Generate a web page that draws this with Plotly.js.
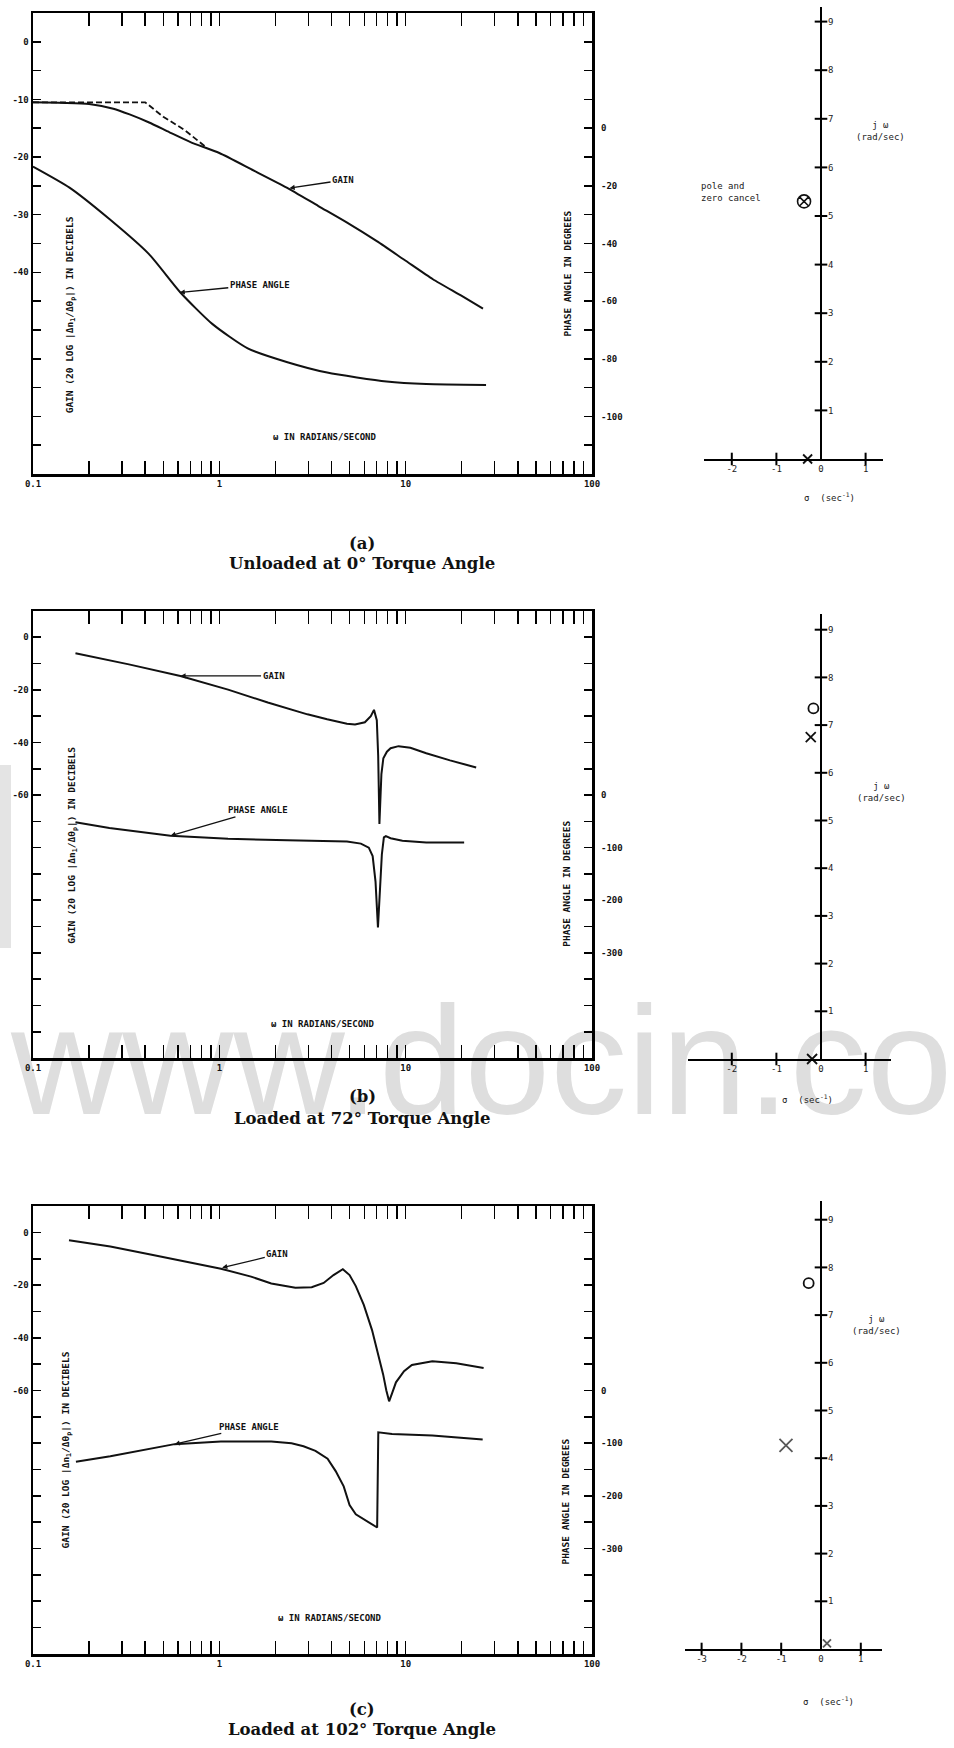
<!DOCTYPE html>
<html><head><meta charset="utf-8">
<script src="https://cdn.plot.ly/plotly-3.0.1.min.js"></script>
<style>html,body{margin:0;padding:0;background:#fff}#chart{width:954px;height:1748px}</style>
</head><body><div id="chart"></div>
<script>
const W = 954, H = 1748;

// ---------- Panel (a) Unloaded at 0 deg ----------
const omegaGainA = [0.1, 0.15, 0.2, 0.27, 0.33, 0.42, 0.54, 0.7, 1.0, 1.5, 2.3, 3.4, 4.8, 7, 10, 14, 20, 26];
const gainA = [-10.5, -10.6, -10.8, -11.6, -12.6, -14.0, -15.7, -17.4, -19.3, -22.2, -25.3, -28.5, -31.3, -34.6, -38.0, -41.2, -44.1, -46.3];
const omegaAsymA = [0.1, 0.4, 0.5, 0.65, 0.85];
const asymA = [-10.5, -10.5, -13.0, -15.3, -18.3];
const omegaPhaseA = [0.1, 0.157, 0.257, 0.418, 0.618, 0.916, 1.42, 2.32, 3.79, 7.9, 12.9, 27];
const phaseA = [-13.3, -20.6, -31.5, -43.6, -57, -67.9, -76.4, -81.2, -84.8, -87.9, -88.8, -89.1];

// ---------- Panel (b) Loaded at 72 deg ----------
const omegaGainB = [0.169, 0.327, 0.618, 1.114, 1.82, 2.97, 3.79, 4.84, 5.35, 6.04, 6.5, 6.76, 7.0, 7.12, 7.23, 7.41, 7.59, 7.93, 8.3, 9.16, 10.6, 12.9, 17.3, 23.9];
const gainB = [-6.1, -10.3, -14.7, -19.9, -24.8, -29.3, -31.2, -32.9, -33.2, -32.3, -30.0, -27.6, -31.5, -45, -71, -52, -46, -43.5, -42.2, -41.4, -42.0, -44.1, -46.8, -49.5];
const omegaPhaseB = [0.169, 0.257, 0.547, 1.114, 2.32, 4.84, 5.75, 6.34, 6.65, 6.89, 7.1, 7.23, 7.45, 7.64, 7.83, 8.3, 9.6, 12.9, 20.6];
const phaseB = [-51.6, -62.6, -77.4, -83.2, -85.8, -88.4, -92.3, -100, -116, -164.5, -251.6, -203, -113, -80.6, -78, -82, -87, -90.3, -90.3];

// ---------- Panel (c) Loaded at 102 deg ----------
const omegaGainC = [0.156, 0.26, 0.427, 0.703, 1.02, 1.48, 1.9, 2.56, 3.13, 3.63, 4.1, 4.6, 5.0, 5.4, 5.96, 6.6, 7.1, 7.57, 7.87, 8.15, 8.45, 8.87, 9.8, 10.8, 13.9, 18.7, 26.2];
const gainC = [-3.0, -5.4, -8.4, -11.4, -13.8, -16.8, -19.4, -21.0, -20.8, -19.2, -16.2, -14.0, -16.2, -20.4, -27.5, -37.1, -45.5, -53.9, -59.9, -64.1, -61.1, -56.9, -52.7, -50.3, -48.9, -49.7, -51.5];
const omegaPhaseC = [0.17, 0.26, 0.575, 1.02, 1.9, 2.44, 2.83, 3.28, 3.81, 4.21, 4.65, 5.0, 5.4, 6.1, 6.92, 7.03, 7.13, 8.45, 13.9, 25.9];
const phaseC = [-135.3, -124.7, -101.8, -97, -97, -100, -105.9, -114.7, -129.4, -153, -182, -217.6, -235, -247, -258, -260, -79.4, -82.4, -85.3, -92.9];

// ---------- Bode axis ticks ----------
const decades = [0.1, 1, 10, 100];
const decadeLabels = ['0.1', '1', '10', '100'];
const minorVals = [0.2,0.3,0.4,0.5,0.6,0.7,0.8,0.9,2,3,4,5,6,7,8,9,20,30,40,50,60,70,80,90];
const gainLabeledA = [0, -10, -20, -30, -40];
const gainMinorA = [-5,-15,-25,-35,-45,-50,-55,-60,-65,-70];
const phaseLabeledA = [0, -20, -40, -60, -80, -100];
const phaseMinorA = [30, 20, 10, -10, -30, -50, -70, -90, -110];
const gainLabeledBC = [0, -20, -40, -60];
const gainMinorBC = [-10,-30,-50,-70,-80,-90,-100,-110,-120,-130,-140,-150];
const phaseLabeledBC = [0, -100, -200, -300];
const phaseMinorBC = [300,250,200,150,100,50,-50,-150,-250,-350,-400,-450];

// ---------- s-plane (pole / zero) data ----------
const sigmaTicksA = [-2, -1, 0, 1];
const sigmaTicksB = [-2, -1, 0, 1];
const sigmaTicksC = [-3, -2, -1, 0, 1];
const omegaTicks = [1, 2, 3, 4, 5, 6, 7, 8, 9];
const polesA = {sigma: [-0.3], omega: [0]};
const cancelA = {sigma: [-0.38], omega: [5.3]};
const polesB = {sigma: [-0.23, -0.2], omega: [6.75, 0]};
const zerosB = {sigma: [-0.17], omega: [7.35]};
const polesC = {sigma: [-0.88, 0.15], omega: [4.27, 0.12]};
const zerosC = {sigma: [-0.31], omega: [7.67]};

const captionsTop = ['(a)', '(b)', '(c)'];
const captionsBottom = ['Unloaded at 0° Torque Angle', 'Loaded at 72° Torque Angle', 'Loaded at 102° Torque Angle'];

// ---------- styles ----------
const tickFont = {family: 'DejaVu Sans Mono', size: 9, color: '#111', weight: 'bold'};
const annoFont = {family: 'DejaVu Sans Mono', size: 9, color: '#111', weight: 'bold'};
const titleFont = {family: 'DejaVu Sans Mono', size: 9.5, color: '#111', weight: 'bold'};
const pzFont = {family: 'DejaVu Sans Mono', size: 9, color: '#222'};
const capFont = {family: 'DejaVu Serif', size: 16.5, color: '#111', weight: 'bold'};
const sfx = i => (i === 1 ? '' : String(i));
const lg = v => Math.log10(v);

const layout = {
  width: W, height: H, margin: {l: 0, r: 0, t: 0, b: 0, pad: 0},
  paper_bgcolor: '#fff', plot_bgcolor: 'rgba(0,0,0,0)',
  showlegend: false, annotations: [], shapes: []
};
const traces = [];

function bode(ix, iy, iy2, iy3, xPx, yPx, gRange, pRange, gLab, gMin, pLab, pMin) {
  layout['xaxis' + sfx(ix)] = {
    type: 'log', range: [-1, 2], domain: [xPx[0] / W, xPx[1] / W], anchor: 'y' + sfx(iy),
    showline: true, linecolor: '#000', linewidth: 2.5, mirror: 'allticks',
    ticks: 'inside', ticklen: 13, tickwidth: 1.6, tickcolor: '#000',
    tickmode: 'array', tickvals: decades, ticktext: decadeLabels, tickfont: tickFont,
    minor: {ticks: 'inside', ticklen: 7, tickwidth: 1.4, tickcolor: '#000', tickmode: 'array', tickvals: minorVals, showgrid: false},
    showgrid: false, zeroline: false
  };
  layout['yaxis' + sfx(iy)] = {
    range: gRange, domain: [1 - yPx[1] / H, 1 - yPx[0] / H], anchor: 'x' + sfx(ix),
    showline: true, linecolor: '#000', linewidth: 2.5, mirror: true,
    ticks: 'inside', ticklen: 8, tickwidth: 1.6, tickcolor: '#000',
    tickmode: 'array', tickvals: gLab, ticktext: gLab.map(String), tickfont: tickFont,
    minor: {ticks: 'inside', ticklen: 8, tickwidth: 1.6, tickcolor: '#000', tickmode: 'array', tickvals: gMin, showgrid: false},
    showgrid: false, zeroline: false
  };
  layout['yaxis' + sfx(iy2)] = {
    range: pRange, overlaying: 'y' + sfx(iy), side: 'right', anchor: 'x' + sfx(ix),
    ticks: 'inside', ticklen: 8, tickwidth: 1.6, tickcolor: '#000',
    tickmode: 'array', tickvals: pLab, ticktext: pLab.map(String), tickfont: tickFont, ticklabelstandoff: 8,
    minor: {ticks: 'inside', ticklen: 8, tickwidth: 1.6, tickcolor: '#000', tickmode: 'array', tickvals: pMin, showgrid: false},
    showline: false, showgrid: false, zeroline: false
  };
  // labelled phase ticks also cross the right frame outward
  layout['yaxis' + sfx(iy3)] = {
    range: pRange, overlaying: 'y' + sfx(iy), side: 'right', anchor: 'x' + sfx(ix),
    ticks: 'outside', ticklen: 7, tickwidth: 1.6, tickcolor: '#000',
    tickmode: 'array', tickvals: pLab, showticklabels: false,
    showline: false, showgrid: false, zeroline: false
  };
}

function splane(ix, iy, xRange, x0Px, unitX, y0Px, unitY, yTop, sTicks) {
  layout['xaxis' + sfx(ix)] = {
    range: xRange, domain: [(x0Px + xRange[0] * unitX) / W, (x0Px + xRange[1] * unitX) / W],
    anchor: 'y' + sfx(iy), showline: true, linecolor: '#000', linewidth: 2.2,
    ticks: '', tickmode: 'array', tickvals: sTicks, ticktext: sTicks.map(String), tickfont: pzFont,
    showgrid: false, zeroline: false
  };
  layout['yaxis' + sfx(iy)] = {
    range: [0, yTop], domain: [1 - y0Px / H, 1 - (y0Px - yTop * unitY) / H],
    anchor: 'free', position: x0Px / W, side: 'right', showline: true, linecolor: '#000', linewidth: 2.2,
    ticks: '', tickmode: 'array', tickvals: omegaTicks, ticktext: omegaTicks.map(String), tickfont: pzFont,
    ticklabelstandoff: 4, showgrid: false, zeroline: false
  };
  const xa = 'x' + sfx(ix), ya = 'y' + sfx(iy);
  traces.push({x: omegaTicks.map(() => 0), y: omegaTicks, xaxis: xa, yaxis: ya, mode: 'markers', cliponaxis: false,
    marker: {symbol: 'line-ew', size: 9, color: '#000', line: {width: 2, color: '#000'}}, hoverinfo: 'skip'});
  const st = sTicks.filter(v => v !== 0);
  traces.push({x: st, y: st.map(() => 0), xaxis: xa, yaxis: ya, mode: 'markers', cliponaxis: false,
    marker: {symbol: 'line-ns', size: 9, color: '#000', line: {width: 2, color: '#000'}}, hoverinfo: 'skip'});
}

const line = {color: '#111', width: 2};
const sline = {color: '#111', width: 2, shape: 'spline', smoothing: 0.6};

// ----- Bode plots -----
bode(1, 1, 2, 10, [33, 592], [13, 474], [-75, 5], [-120, 40], gainLabeledA, gainMinorA, phaseLabeledA, phaseMinorA);
bode(3, 4, 5, 11, [33, 592], [611, 1058], [-160, 10], [-500, 350], gainLabeledBC, gainMinorBC, phaseLabeledBC, phaseMinorBC);
bode(5, 7, 8, 12, [33, 592], [1206, 1654], [-160, 10], [-500, 350], gainLabeledBC, gainMinorBC, phaseLabeledBC, phaseMinorBC);

traces.push({x: omegaGainA, y: gainA, xaxis: 'x', yaxis: 'y', mode: 'lines', line: sline});
traces.push({x: omegaAsymA, y: asymA, xaxis: 'x', yaxis: 'y', mode: 'lines', line: {color: '#111', width: 1.8, dash: '6px,3px'}});
traces.push({x: omegaPhaseA, y: phaseA, xaxis: 'x', yaxis: 'y2', mode: 'lines', line: sline});
traces.push({x: omegaGainB, y: gainB, xaxis: 'x3', yaxis: 'y4', mode: 'lines', line: line});
traces.push({x: omegaPhaseB, y: phaseB, xaxis: 'x3', yaxis: 'y5', mode: 'lines', line: line});
traces.push({x: omegaGainC, y: gainC, xaxis: 'x5', yaxis: 'y7', mode: 'lines', line: line});
traces.push({x: omegaPhaseC, y: phaseC, xaxis: 'x5', yaxis: 'y8', mode: 'lines', line: line});

function arrowLabel(xr, yr, xv, yv, axLog, ay, text) {
  layout.annotations.push({xref: xr, yref: yr, x: lg(xv), y: yv, axref: xr, ayref: yr, ax: axLog, ay: ay,
    text: text, font: annoFont, showarrow: true, arrowhead: 2, arrowsize: 0.8, arrowwidth: 1.3, arrowcolor: '#111', standoff: 0});
}
function plainText(xr, yr, x, y, text, extra) {
  layout.annotations.push(Object.assign({xref: xr, yref: yr, x: x, y: y, text: text, font: annoFont, showarrow: false}, extra || {}));
}
const gainTitle = 'GAIN (20 LOG |Δn<sub>1</sub>/Δθ<sub>p</sub>|) IN DECIBELS';
const phaseTitle = 'PHASE ANGLE IN DEGREES';
const wTitle = 'ω IN RADIANS/SECOND';
const rot = {textangle: -90, font: titleFont};

// (a)
arrowLabel('x', 'y', 2.38, -25.4, 0.664, -24, 'GAIN');
arrowLabel('x', 'y2', 0.612, -57, 0.217, -54.3, 'PHASE ANGLE');
plainText('x', 'y domain', 0.568, 0.066, wTitle);
plainText('x', 'y domain', -0.794, 0.345, gainTitle, rot);
plainText('x', 'y domain', 1.866, 0.294, phaseTitle, rot);
// (b)
arrowLabel('x3', 'y4', 0.618, -14.7, 0.291, -14.7, 'GAIN');
arrowLabel('x3', 'y5', 0.547, -77.4, 0.206, -29, 'PHASE ANGLE');
plainText('x3', 'y4 domain', 0.557, 0.06, wTitle);
plainText('x3', 'y4 domain', -0.79, 0.70, gainTitle, rot);
plainText('x3', 'y4 domain', 1.866, 0.39, phaseTitle, rot);
// (c)
arrowLabel('x5', 'y7', 1.035, -13.4, 0.311, -8.4, 'GAIN');
arrowLabel('x5', 'y8', 0.575, -102, 0.16, -69, 'PHASE ANGLE');
plainText('x5', 'y7 domain', 0.594, 0.065, wTitle);
plainText('x5', 'y7 domain', -0.82, 0.68, gainTitle, rot);
plainText('x5', 'y7 domain', 1.86, 0.34, phaseTitle, rot);

// ----- s-plane plots -----
splane(2, 3, [-2.62, 1.38], 821, 44.6, 459, 48.6, 9.3, sigmaTicksA);
splane(4, 6, [-2.99, 1.57], 821, 44.6, 1059, 47.7, 9.32, sigmaTicksB);
splane(6, 9, [-3.42, 1.54], 821, 39.8, 1649, 47.7, 9.4, sigmaTicksC);

const xMark = sz => ({symbol: 'x-thin-open', size: sz, color: '#111', line: {width: 1.8, color: '#111'}});
traces.push({x: polesA.sigma, y: polesA.omega, xaxis: 'x2', yaxis: 'y3', mode: 'markers', cliponaxis: false, marker: xMark(9)});
traces.push({x: cancelA.sigma, y: cancelA.omega, xaxis: 'x2', yaxis: 'y3', mode: 'markers', cliponaxis: false,
  marker: {symbol: 'circle-x-open', size: 13, color: '#111', line: {width: 1.6, color: '#111'}}});
traces.push({x: polesB.sigma, y: polesB.omega, xaxis: 'x4', yaxis: 'y6', mode: 'markers', cliponaxis: false, marker: xMark(10)});
traces.push({x: zerosB.sigma, y: zerosB.omega, xaxis: 'x4', yaxis: 'y6', mode: 'markers', cliponaxis: false,
  marker: {symbol: 'circle-open', size: 10, color: '#111', line: {width: 1.8, color: '#111'}}});
traces.push({x: polesC.sigma, y: polesC.omega, xaxis: 'x6', yaxis: 'y9', mode: 'markers', cliponaxis: false,
  marker: {symbol: 'x-thin-open', size: [13, 8], color: '#111', line: {width: 1.8, color: '#111'}}});
traces.push({x: zerosC.sigma, y: zerosC.omega, xaxis: 'x6', yaxis: 'y9', mode: 'markers', cliponaxis: false,
  marker: {symbol: 'circle-open', size: 10, color: '#111', line: {width: 1.8, color: '#111'}}});

function pzText(xr, yr, x, y, text, extra) {
  layout.annotations.push(Object.assign({xref: xr, yref: yr, x: x, y: y, text: text, font: pzFont, showarrow: false}, extra || {}));
}
pzText('x2', 'y3', -2.6, 5.5, 'pole and<br>zero cancel', {xanchor: 'left', align: 'left', xshift: -6});
pzText('x2', 'y3', 1.33, 6.75, 'j ω<br>(rad/sec)');
pzText('x2', 'y3', 0.2, 0, 'σ  (sec<sup>-1</sup>)', {yshift: -38});
pzText('x4', 'y6', 1.36, 5.6, 'j ω<br>(rad/sec)');
pzText('x4', 'y6', -0.3, 0, 'σ  (sec<sup>-1</sup>)', {yshift: -40});
pzText('x6', 'y9', 1.4, 6.8, 'j ω<br>(rad/sec)');
pzText('x6', 'y9', 0.2, 0, 'σ  (sec<sup>-1</sup>)', {yshift: -52});

// ----- captions -----
const capY = [[532, 552], [1096, 1118], [1721, 1741]];
captionsTop.forEach((t, i) => {
  layout.annotations.push({xref: 'paper', yref: 'paper', x: 362 / W, y: 1 - capY[i][0] / H, text: t, font: capFont, showarrow: false});
  layout.annotations.push({xref: 'paper', yref: 'paper', x: 362 / W, y: 1 - capY[i][1] / H, text: captionsBottom[i], font: capFont, showarrow: false});
});

// ----- background watermark of the scanned page -----
layout.shapes.push({type: 'rect', xref: 'paper', yref: 'paper', x0: 0, x1: 1, y0: 1 - 1096 / H, y1: 1 - 996 / H,
  line: {width: 0}, fillcolor: 'rgba(0,0,0,0)', layer: 'below',
  label: {text: 'www.docin.co', textposition: 'middle left', padding: 8,
    font: {family: 'Liberation Sans', size: 154, color: '#dedede'}}});
layout.shapes.push({type: 'rect', xref: 'paper', yref: 'paper', x0: 0, x1: 11 / W, y0: 1 - 948 / H, y1: 1 - 765 / H,
  line: {width: 0}, fillcolor: '#e4e4e4', layer: 'below'});

Plotly.newPlot('chart', traces, layout, {staticPlot: true, displayModeBar: false});
</script></body></html>
